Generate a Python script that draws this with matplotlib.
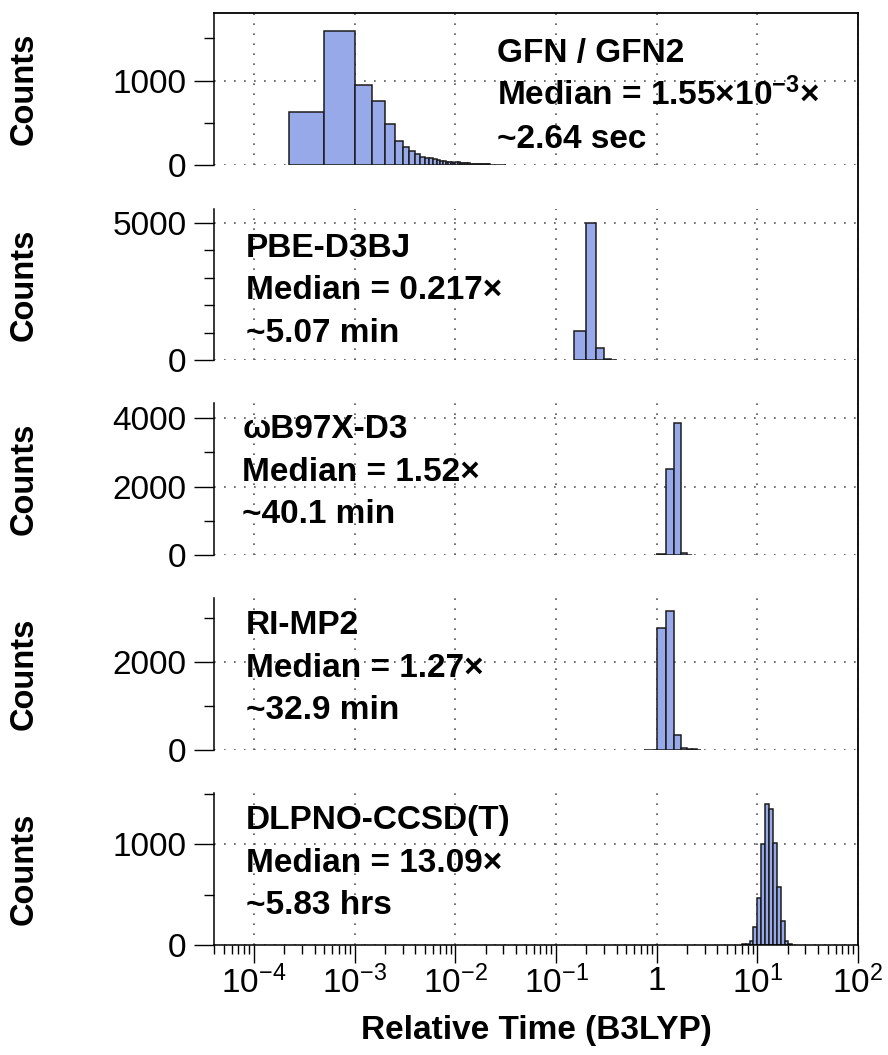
import numpy as np
import matplotlib
matplotlib.use("Agg")
import matplotlib.pyplot as plt
from matplotlib.ticker import LogLocator, MultipleLocator, NullFormatter

plt.rcParams.update({
    "font.family": ["Liberation Sans", "DejaVu Sans"],
    "mathtext.fontset": "custom",
    "mathtext.rm": "Liberation Sans",
    "mathtext.bf": "Liberation Sans:bold",
    "mathtext.it": "Liberation Sans:italic",
    "axes.linewidth": 1.1,
})

# --- histogram data: relative time vs B3LYP ---------------------------------
# GFN: first bin is open at the low end, then regular 0.5e-3 bins up to 0.032
gfn_edges = np.concatenate([[2.2e-4, 0.5e-3], np.arange(1.0e-3, 32.25e-3, 0.5e-3)])
gfn_counts = [625, 1590,
              948, 752, 490, 288, 210, 162, 128, 100, 88, 80, 70, 60, 50, 44, 40, 36, 32, 28,
              30, 34, 28, 25, 24, 22, 20, 19, 17, 16, 15, 14, 13, 12, 11, 10, 10, 9, 8, 8,
              7, 7, 6, 6, 5, 5, 5, 4, 4, 4, 3, 3, 3, 3, 2, 2, 2, 2, 2, 1, 1, 1, 1, 1]

pbe_edges = [0.15, 0.20, 0.25, 0.30, 0.35, 0.40]
pbe_counts = [1044, 4990, 425, 30, 10]

wb97_edges = [1.0, 1.25, 1.5, 1.75, 2.0, 2.25]
wb97_counts = [15, 2515, 3860, 55, 10]

mp2_edges = [0.75, 1.0, 1.25, 1.5, 1.75, 2.0, 2.25, 2.5, 2.75]
mp2_counts = [8, 2780, 3150, 340, 45, 25, 15, 8]

dlpno_edges = [7.0, 7.65, 8.37, 9.15, 10.0, 10.93, 11.95, 13.06, 14.28, 15.6, 17.05,
               18.64, 20.37, 22.27]
dlpno_counts = [5, 12, 35, 175, 470, 1000, 1400, 1345, 1005, 575, 240, 35, 10]

labels = [
    ["GFN / GFN2", r"Median = 1.55×$\mathbf{10^{-3}}$×", "~2.64 sec"],
    ["PBE-D3BJ", "Median = 0.217×", "~5.07 min"],
    ["ωB97X-D3", "Median = 1.52×", "~40.1 min"],
    ["RI-MP2", "Median = 1.27×", "~32.9 min"],
    ["DLPNO-CCSD(T)", "Median = 13.09×", "~5.83 hrs"],
]

x_ticks = [1e-4, 1e-3, 1e-2, 1e-1, 1, 10, 100]
x_ticklabels = [r"$10^{-4}$", r"$10^{-3}$", r"$10^{-2}$", r"$10^{-1}$", "1",
                r"$10^{1}$", r"$10^{2}$"]

# --- layout -----------------------------------------------------------------
W, H = 888, 1055
FILL = "#98a9ea"
EDGE = "#1c1c1c"

panels = [
    # (edges, counts, ylim, major ticks, minor step, pixel top/bottom, text x, text y)
    (gfn_edges, gfn_counts, 1800, [0, 1000], 500, (13, 165), 0.439, 0.675),
    (pbe_edges, pbe_counts, 5500, [0, 5000], 1000, (209, 360), 0.050, 0.682),
    (wb97_edges, wb97_counts, 4440, [0, 2000, 4000], 1000, (403, 555), 0.044, 0.770),
    (mp2_edges, mp2_counts, 3450, [0, 2000], 1000, (598, 750), 0.050, 0.763),
    (dlpno_edges, dlpno_counts, 1505, [0, 1000], 500, (793, 945), 0.050, 0.763),
]

fig = plt.figure(figsize=(W / 100, H / 100), dpi=100)
left, width = 214 / W, 644 / W

for i, (edges, counts, ymax, yt, ystep, (top, bot), tx, ty) in enumerate(panels):
    ax = fig.add_axes([left, 1 - bot / H, width, (bot - top) / H])
    edges = np.asarray(edges)
    ax.bar(edges[:-1], counts, width=np.diff(edges), align="edge",
           color=FILL, edgecolor=EDGE, linewidth=1.1, zorder=2)

    ax.set_xscale("log")
    ax.set_xlim(4e-5, 100)
    ax.set_ylim(0, ymax)
    ax.set_xticks(x_ticks, x_ticklabels)
    ax.xaxis.set_minor_locator(LogLocator(base=10, subs=np.arange(2, 10), numticks=50))
    ax.xaxis.set_minor_formatter(NullFormatter())
    ax.set_yticks(yt)
    ax.yaxis.set_minor_locator(MultipleLocator(ystep))

    ax.tick_params(axis="y", which="major", direction="out", length=14.4, width=1.0,
                   labelsize=24, pad=5.5)
    ax.tick_params(axis="y", which="minor", direction="out", length=7.2, width=1.0)
    ax.grid(True, which="major", color="#555555", linestyle=(0, (1, 5)), linewidth=1.2)
    ax.set_axisbelow(True)

    ax.spines["top"].set_visible(False)
    ax.spines["right"].set_visible(False)
    if i < len(panels) - 1:
        ax.spines["bottom"].set_visible(False)
        ax.tick_params(axis="x", which="both", bottom=False, labelbottom=False)
    else:
        ax.tick_params(axis="x", which="major", direction="out", length=13, width=1.0,
                       labelsize=24, pad=2)
        ax.tick_params(axis="x", which="minor", direction="out", length=6.5, width=1.0)
        ax.set_xlabel("Relative Time (B3LYP)", fontsize=24, fontweight="bold")
        ax.xaxis.set_label_coords(0.5, -0.46)

    ax.set_ylabel("Counts", fontsize=23.5, fontweight="bold")
    ax.yaxis.set_label_coords(-0.27, 0.5)

    for k, line in enumerate(labels[i]):
        ax.text(tx, ty - 0.28 * k, line, transform=ax.transAxes, fontsize=24,
                fontweight="bold", ha="left", va="baseline")

# outer frame: top and right edge spanning all panels
frame = fig.add_axes([left, 1 - 945 / H, width, (945 - 13) / H])
frame.patch.set_visible(False)
frame.set_xticks([])
frame.set_yticks([])
frame.spines["left"].set_visible(False)
frame.spines["bottom"].set_visible(False)
for s in ("top", "right"):
    frame.spines[s].set_linewidth(1.3)

fig.savefig("out.png", dpi=100)
